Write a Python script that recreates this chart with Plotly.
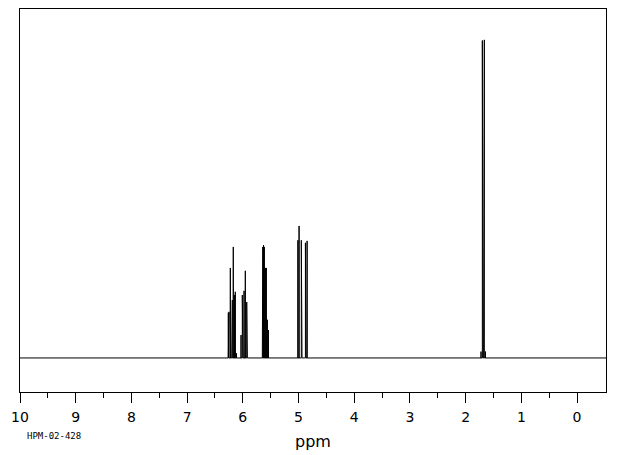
import plotly.graph_objects as go

# Peak list (chemical shift in ppm, relative intensity)
peak_ppm = [
    6.260, 6.248, 6.224, 6.199, 6.188, 6.171, 6.150, 6.135, 6.115,
    6.032, 6.009, 5.996, 5.978, 5.955, 5.930, 5.918,
    5.650, 5.641, 5.628, 5.614, 5.596, 5.578, 5.560, 5.539,
    5.011, 4.990, 4.950, 4.937, 4.876, 4.864, 4.846,
    1.724, 1.700, 1.688, 1.677, 1.664, 1.643,
]
peak_height = [
    14.2, 14.5, 28.3, 14.5, 18.2, 34.9, 19.8, 20.8, 1.5,
    7.2, 19.8, 6.3, 21.1, 27.4, 17.6, 5.5,
    12.0, 34.9, 35.5, 34.9, 28.3, 28.3, 12.0, 8.8,
    37.0, 41.5, 37.0, 13.0, 36.2, 6.0, 36.8,
    2.0, 99.8, 88.4, 88.4, 100.0, 2.0,
]
x_start, x_end = 10.6, -0.6
tick_vals = [10, 9, 8, 7, 6, 5, 4, 3, 2, 1, 0]
tick_text = ["10", "9", "8", "7", "6", "5", "4", "3", "2", "1", "0"]
minor_vals = [9.5, 8.5, 7.5, 6.5, 5.5, 4.5, 3.5, 2.5, 1.5, 0.5]

# Build a stick spectrum along a baseline
pairs = sorted(zip(peak_ppm, peak_height), key=lambda p: -p[0])
xs, ys = [x_start], [0]
for p, h in pairs:
    xs += [p, p, p]
    ys += [0, h, 0]
xs.append(x_end)
ys.append(0)

fig = go.Figure()
fig.add_trace(go.Scatter(x=xs, y=ys, mode="lines",
                         line=dict(color="black", width=1),
                         hoverinfo="skip", showlegend=False))

# The page body adds an 8px margin, so the figure is sized/positioned to compensate
fig.update_layout(
    width=612, height=447,
    margin=dict(l=12, r=14, t=1, b=63),
    paper_bgcolor="white", plot_bgcolor="white",
    font=dict(family="DejaVu Sans", color="black"),
    xaxis=dict(
        range=[10, -0.52], tickmode="array", tickvals=tick_vals, ticktext=tick_text,
        ticks="outside", ticklen=10, tickwidth=1, tickcolor="black",
        showline=True, linecolor="black", linewidth=1, mirror=True,
        showgrid=False, zeroline=False, ticklabelstandoff=2,
        tickfont=dict(size=14, family="DejaVu Sans", color="black"),
        minor=dict(tickmode="array", tickvals=minor_vals,
                   ticks="outside", ticklen=5, tickwidth=1, tickcolor="black", showgrid=False),
    ),
    yaxis=dict(
        range=[-10.7, 109.7], showticklabels=False, ticks="",
        showline=True, linecolor="black", linewidth=1, mirror=True,
        showgrid=False, zeroline=False,
    ),
    annotations=[
        dict(text="ppm", x=0.5, xref="paper", y=-0.128, yref="paper",
             xanchor="center", yanchor="middle", showarrow=False,
             font=dict(size=16, family="DejaVu Sans", color="black")),
        dict(text="HPM-02-428", x=0.0085, xref="paper", y=-0.115, yref="paper",
             xanchor="left", yanchor="middle", showarrow=False,
             font=dict(size=9, family="DejaVu Sans Mono", color="black")),
    ],
)
fig.write_html("out.html")
